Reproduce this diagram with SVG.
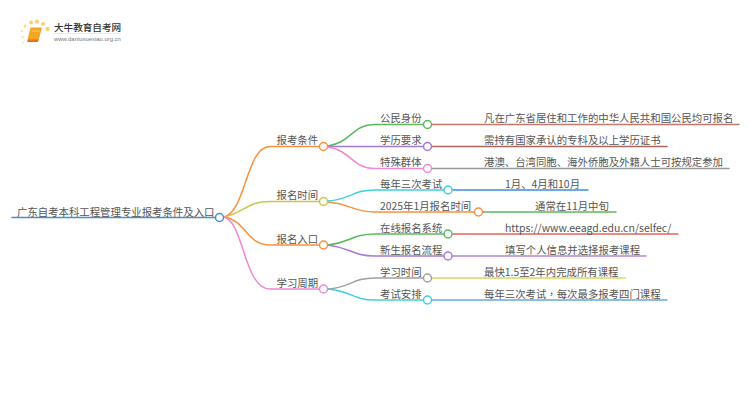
<svg xmlns="http://www.w3.org/2000/svg" width="750" height="410" viewBox="0 0 750 410">
<style>
text{font-family:"Noto Sans CJK SC","Liberation Sans",sans-serif;font-size:10.4px;fill:#555}
.l{fill:none;stroke-width:1.5;stroke-linecap:round}
.n{fill:#fff;stroke-width:1.5}
</style>
<rect width="750" height="410" fill="#fff"/>
<g id="logo">
<circle cx="25" cy="26" r="1.5" fill="#fbd98a"/><circle cx="31" cy="22.500" r="2" fill="#fbd070"/><circle cx="37" cy="21.500" r="2" fill="#fbd070"/><circle cx="43" cy="24" r="2" fill="#fbd070"/><circle cx="47.500" cy="29" r="2.200" fill="#fbd070"/><circle cx="22" cy="31" r="1.300" fill="#fde4ae"/><circle cx="22.500" cy="37" r="1.200" fill="#fde4ae"/><circle cx="23.500" cy="42.500" r="1" fill="#fde4ae"/>
<path d="M30.500 27.500H42L38.500 40.500H28.500L27 42Z" fill="#f5a623"/><path d="M27 42L28.500 39.500H38.500L38 42Z" fill="#e8741a"/><path d="M32 31H39.500" stroke="#fff" stroke-width=".6" opacity=".6"/>
<text x="54" y="31" style="font-size:9.600px;fill:#333;font-weight:500">大牛教育自考网</text>
<path d="M54 33.500H121" stroke="#ddd" stroke-width=".6"/>
<text x="54" y="41" style="font-size:5.900px;fill:#777;font-family:'Liberation Sans',sans-serif">www.daniuxuexiao.org.cn</text>
</g>
<g id="connectors">
<path class="l" stroke="#4a8fcb" d="M12 217.500H215"/>
<path class="l" stroke="#f9913d" d="M224 217C246 212 246 146.500 270 146.500H319"/>
<path class="l" stroke="#c6c84a" d="M224 217C246 212 246 201.500 270 201.500H319"/>
<path class="l" stroke="#f9913d" d="M224 217C246 220 246 245 270 245H319"/>
<path class="l" stroke="#ee88d4" d="M224 217C244 222 244 289 270 289H319"/>
<path class="l" stroke="#5cb85c" d="M328 146C352 142 352 124.500 375 124.500H423"/>
<path class="l" stroke="#a678d6" d="M328 146.500H423"/>
<path class="l" stroke="#ee88d4" d="M328 147C352 151 352 168.500 375 168.500H423"/>
<path class="l" stroke="#3fd0e0" d="M328 201C352 199 352 190 375 190H444"/>
<path class="l" stroke="#f9913d" d="M328 202C352 204 352 212 375 212H474"/>
<path class="l" stroke="#5cb85c" d="M328 245C352 242 352 234 375 234H444"/>
<path class="l" stroke="#a678d6" d="M328 245C352 248 352 256 375 256H444"/>
<path class="l" stroke="#a0a0a0" d="M328 289C352 287 352 278 375 278H423"/>
<path class="l" stroke="#3fd0e0" d="M328 289C352 291 352 300 375 300H423"/>
<path class="l" stroke="#c2786a" d="M432 124.500H739"/>
<path class="l" stroke="#b0655a" d="M432 146.500H667"/>
<path class="l" stroke="#999" d="M432 168.500H729"/>
<path class="l" stroke="#3a8fd6" d="M453 190H588"/>
<path class="l" stroke="#5cb85c" d="M483 212H616"/>
<path class="l" stroke="#e8605a" d="M453 234H678"/>
<path class="l" stroke="#b088d8" d="M453 256H646"/>
<path class="l" stroke="#d8d860" d="M432 278H625"/>
<path class="l" stroke="#6aa8dc" d="M432 300H667"/>
</g>
<g id="root"><circle class="n" stroke="#4a8fcb" cx="219.500" cy="217.500" r="4"/><text x="17" y="216">广东自考本科工程管理专业报考条件及入口</text></g>
<g id="n1"><circle class="n" stroke="#f9913d" cx="323.500" cy="146.500" r="4"/><text x="276.500" y="144">报考条件</text></g>
<g id="n2"><circle class="n" stroke="#c6c84a" cx="323.500" cy="201.500" r="4"/><text x="276.500" y="199">报名时间</text></g>
<g id="n3"><circle class="n" stroke="#f9913d" cx="323.500" cy="245" r="4"/><text x="276.500" y="243">报名入口</text></g>
<g id="n4"><circle class="n" stroke="#ee88d4" cx="323.500" cy="289" r="4"/><text x="276.500" y="287">学习周期</text></g>
<g id="n11"><circle class="n" stroke="#5cb85c" cx="427.500" cy="124.500" r="4"/><text x="380" y="122">公民身份</text><text x="484" y="122">凡在广东省居住和工作的中华人民共和国公民均可报名</text></g>
<g id="n12"><circle class="n" stroke="#a678d6" cx="427.500" cy="146.500" r="4"/><text x="380" y="144">学历要求</text><text x="484" y="144">需持有国家承认的专科及以上学历证书</text></g>
<g id="n13"><circle class="n" stroke="#ee88d4" cx="427.500" cy="168.500" r="4"/><text x="380" y="166">特殊群体</text><text x="484" y="166">港澳、台湾同胞、海外侨胞及外籍人士可按规定参加</text></g>
<g id="n21"><circle class="n" stroke="#3fd0e0" cx="448" cy="190" r="4"/><text x="380" y="188">每年三次考试</text><text x="505" y="188">1月、4月和10月</text></g>
<g id="n22"><circle class="n" stroke="#f9913d" cx="478.500" cy="212" r="4"/><text x="380" y="210">2025年1月报名时间</text><text x="535" y="210">通常在11月中旬</text></g>
<g id="n31"><circle class="n" stroke="#5cb85c" cx="448" cy="234" r="4"/><text x="380" y="232">在线报名系统</text><text x="505" y="232" style="font-size:10.500px">https://www.eeagd.edu.cn/selfec/</text></g>
<g id="n32"><circle class="n" stroke="#a678d6" cx="448" cy="256" r="4"/><text x="380" y="254">新生报名流程</text><text x="505" y="254">填写个人信息并选择报考课程</text></g>
<g id="n41"><circle class="n" stroke="#a0a0a0" cx="427.500" cy="278" r="4"/><text x="380" y="276">学习时间</text><text x="484" y="276">最快1.5至2年内完成所有课程</text></g>
<g id="n42"><circle class="n" stroke="#3fd0e0" cx="427.500" cy="300" r="4"/><text x="380" y="298">考试安排</text><text x="484" y="298">每年三次考试<tspan style="font-family:'Noto Sans CJK TC',sans-serif">，</tspan>每次最多报考四门课程</text></g>
</svg>
